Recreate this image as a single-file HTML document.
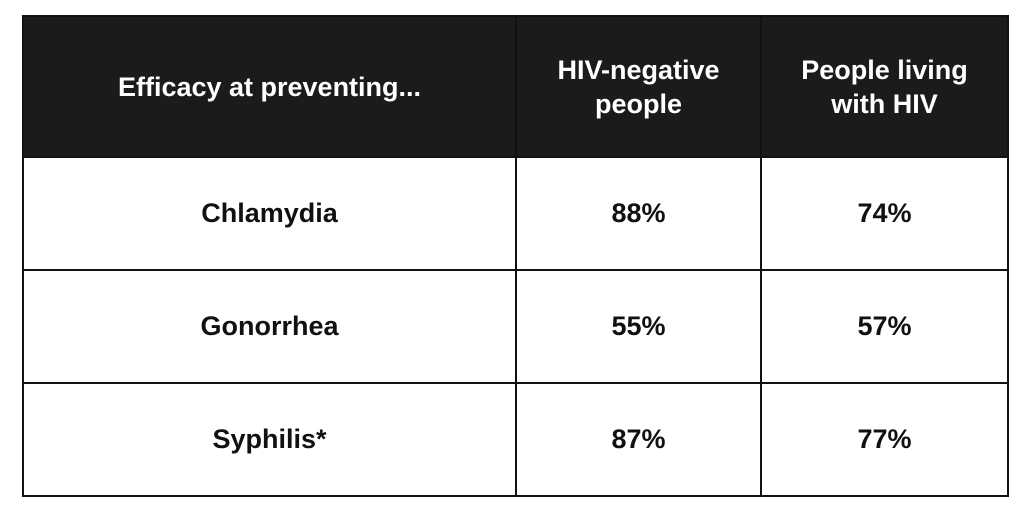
<!DOCTYPE html>
<html><head><meta charset="utf-8"><style>
html,body{margin:0;padding:0;background:#fff;width:1030px;height:513px;overflow:hidden}
table{position:absolute;left:22px;top:15px;border-collapse:collapse;font-family:"Liberation Sans",sans-serif;font-weight:bold;color:#111}
td,th{border:2px solid #111;text-align:center;padding:0}
th{background:#1b1b1b;color:#fff;height:139px;font-size:27px;line-height:34px;font-weight:bold}
td{height:111px;font-size:27px}
</style></head><body>
<table>
<tr>
<th style="width:491px">Efficacy at preventing...</th>
<th style="width:243px">HIV-negative<br>people</th>
<th style="width:245px">People living<br>with HIV</th>
</tr>
<tr><td>Chlamydia</td><td>88%</td><td>74%</td></tr>
<tr><td>Gonorrhea</td><td>55%</td><td>57%</td></tr>
<tr><td>Syphilis*</td><td>87%</td><td>77%</td></tr>
</table>
</body></html>
